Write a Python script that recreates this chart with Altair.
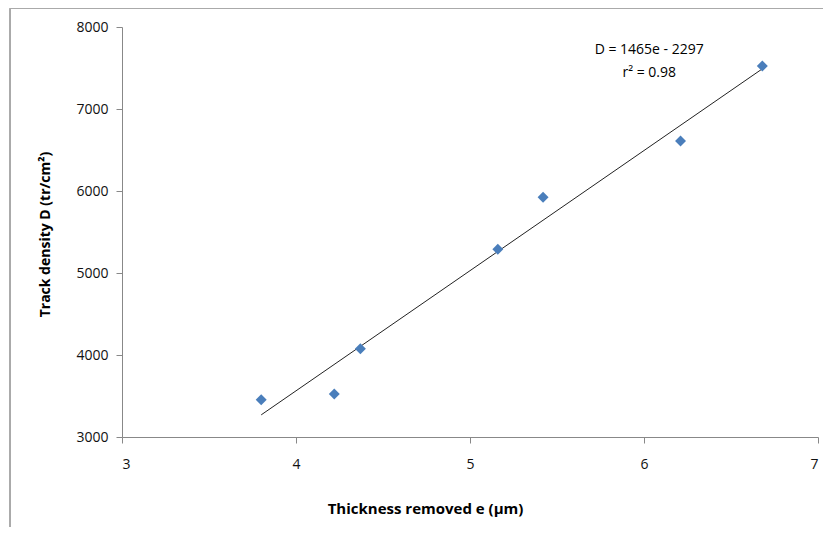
import altair as alt
import pandas as pd

thickness = [3.80, 4.22, 4.37, 5.16, 5.42, 6.21, 6.68]
density = [3455, 3525, 4075, 5290, 5925, 6610, 7525]

trend_x = [3.80, 6.68]
trend_y = [3270, 7490]

eq_lines = ["D = 1465e - 2297", "r² = 0.98"]
eq_x = [6.03, 6.03]
eq_y = [7720, 7440]

pts = pd.DataFrame({"e": thickness, "D": density})
trend = pd.DataFrame({"e": trend_x, "D": trend_y})
eq = pd.DataFrame({"e": eq_x, "D": eq_y, "t": eq_lines})

FONT = "Open Sans"

xscale = alt.Scale(domain=[3, 7], nice=False, zero=False)
yscale = alt.Scale(domain=[3000, 8000], nice=False, zero=False)

xaxis = alt.Axis(values=[3, 4, 5, 6, 7], grid=False, title="Thickness removed e (µm)", format="d",
                 domainColor="#888888", tickColor="#888888", tickSize=6,
                 labelFont=FONT, labelFontSize=14, labelColor="#111111", labelPadding=14,
                 titleFont=FONT, titleFontSize=15, titleFontWeight="bold", titleColor="#000000",
                 titleX=303, titleY=64, titleAnchor="middle")
yaxis = alt.Axis(values=[3000, 4000, 5000, 6000, 7000, 8000], grid=False, format="d",
                 title="Track density D (tr/cm²)",
                 domainColor="#888888", tickColor="#888888", tickSize=6,
                 labelFont=FONT, labelFontSize=14, labelColor="#111111", labelPadding=8,
                 titleFont=FONT, titleFontSize=14, titleFontWeight="bold", titleColor="#000000",
                 titleX=-70, titleY=207, titleAnchor="middle")

line = alt.Chart(trend).mark_line(color="#222222", strokeWidth=1).encode(
    x=alt.X("e:Q", scale=xscale, axis=xaxis),
    y=alt.Y("D:Q", scale=yscale, axis=yaxis),
)

points = alt.Chart(pts).mark_point(shape="diamond", filled=True, color="#4a7ebb", size=120, opacity=1).encode(
    x=alt.X("e:Q", scale=xscale),
    y=alt.Y("D:Q", scale=yscale),
)

text = alt.Chart(eq).mark_text(font=FONT, fontSize=14, color="#000000", align="center").encode(
    x=alt.X("e:Q", scale=xscale),
    y=alt.Y("D:Q", scale=yscale),
    text="t:N",
)

frame_left = alt.Chart(pts).mark_rule(color="#aaaaaa", strokeWidth=1).encode(
    x=alt.value(-112), y=alt.value(-18.5), y2=alt.value(520))
frame_top = alt.Chart(pts).mark_rule(color="#aaaaaa", strokeWidth=1).encode(
    x=alt.value(-112), x2=alt.value(720), y=alt.value(-18.5))

chart = alt.layer(frame_left, frame_top, line, points, text).properties(
    width=696, height=410,
    autosize=alt.AutoSizeParams(type="none"),
    padding={"left": 114, "top": 19, "right": 5, "bottom": 90},
).configure_view(stroke=None)

chart.save("out.html", embed_options={"renderer": "svg", "actions": False})
